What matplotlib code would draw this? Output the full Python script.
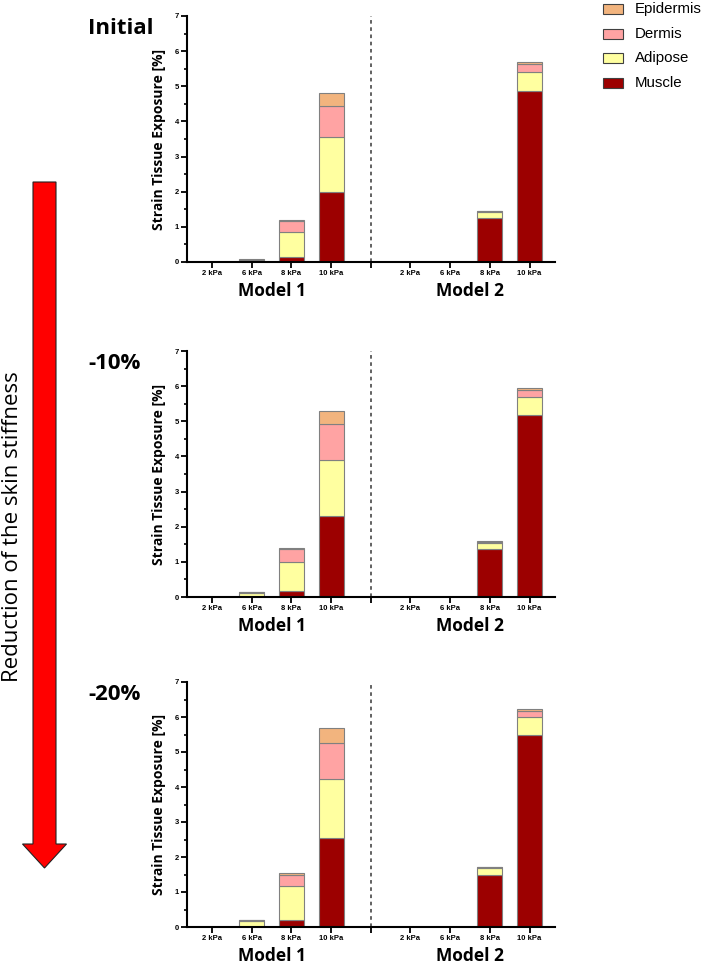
import matplotlib.pyplot as plt
from matplotlib.patches import FancyArrow, Rectangle
from matplotlib.ticker import MultipleLocator
import numpy as np

# x positions: Model 1 -> 0..3, divider at 4, Model 2 -> 5..8
pressures = ['2 kPa', '6 kPa', '8 kPa', '10 kPa']
models = ['Model 1', 'Model 2']
panels = ['Initial', '-10%', '-20%']
tissues = ['Muscle', 'Adipose', 'Dermis', 'Epidermis']
colors = {'Muscle': '#9c0000', 'Adipose': '#ffffa0', 'Dermis': '#ffa3a3', 'Epidermis': '#f2b47e'}

# layer values per panel, order: M1 2/6/8/10 kPa, M2 2/6/8/10 kPa
muscle = [
    [0, 0.00, 0.14, 2.00, 0, 0, 1.25, 4.88],
    [0, 0.01, 0.17, 2.30, 0, 0, 1.37, 5.17],
    [0, 0.01, 0.20, 2.54, 0, 0, 1.48, 5.48],
]
adipose = [
    [0, 0.03, 0.70, 1.55, 0, 0, 0.18, 0.54],
    [0, 0.09, 0.83, 1.61, 0, 0, 0.18, 0.52],
    [0, 0.16, 0.96, 1.70, 0, 0, 0.22, 0.52],
]
dermis = [
    [0, 0.02, 0.32, 0.89, 0, 0, 0.02, 0.20],
    [0, 0.03, 0.36, 1.00, 0, 0, 0.02, 0.21],
    [0, 0.02, 0.34, 1.02, 0, 0, 0.01, 0.17],
]
epidermis = [
    [0, 0.03, 0.04, 0.36, 0, 0, 0.01, 0.08],
    [0, 0.01, 0.04, 0.39, 0, 0, 0.01, 0.06],
    [0, 0.01, 0.04, 0.43, 0, 0, 0.01, 0.05],
]
layers = {'Muscle': muscle, 'Adipose': adipose, 'Dermis': dermis, 'Epidermis': epidermis}

W, H = 707, 964
fig = plt.figure(figsize=(W / 100, H / 100), dpi=100)

xpos = np.array([0, 1, 2, 3, 5, 6, 7, 8])
# (top of y=7, y=0) pixel rows of each panel
rows = [(16, 262), (351, 597), (682, 927)]
ax_left, ax_right = 187, 555

for p, (ytop, ybot) in enumerate(rows):
    ax = fig.add_axes([ax_left / W, 1 - ybot / H, (ax_right - ax_left) / W, (ybot - ytop) / H])
    bottom = np.zeros(len(xpos))
    for t in tissues:
        vals = np.array(layers[t][p])
        ax.bar(xpos, vals, bottom=bottom, width=0.63, color=colors[t],
               edgecolor='#808080', linewidth=0.8, zorder=2)
        bottom += vals
    ax.axvline(4, color='#555555', linestyle=(0, (2, 2)), linewidth=1.3, zorder=1)
    ax.set_xlim(-0.63, 8.64)
    ax.set_ylim(0, 7)
    for s in ['top', 'right']:
        ax.spines[s].set_visible(False)
    for s in ['left', 'bottom']:
        ax.spines[s].set_linewidth(1.5)
    ax.set_xticks(list(xpos) + [4])
    ax.set_xticklabels(pressures + pressures + [''], fontsize=5.5, fontweight='bold',
                       family='Liberation Sans')
    ax.yaxis.set_major_locator(MultipleLocator(1))
    ax.yaxis.set_minor_locator(MultipleLocator(0.5))
    ax.tick_params(axis='both', which='major', length=4, width=1.3, pad=2)
    ax.tick_params(axis='y', which='minor', length=2.5, width=1.2)
    for lab in ax.get_yticklabels():
        lab.set_fontsize(5.5)
        lab.set_fontweight('bold')
        lab.set_family('Liberation Sans')
    ax.set_ylabel('Strain Tissue Exposure [%]', fontsize=10, fontweight='bold',
                  family='Open Sans', labelpad=6)
    # model names under each group
    for m, xc in zip(models, [1.5, 6.5]):
        ax.text(xc, -0.082, m, transform=ax.get_xaxis_transform(), ha='center', va='top',
                fontsize=12.5, fontweight='bold', family='Open Sans')
    fig.text(88 / W, 1 - (ytop + 2) / H, panels[p], ha='left', va='top',
             fontsize=16, fontweight='bold', family='Open Sans')

# overlay in pixel coordinates for the arrow and the legend
over = fig.add_axes([0, 0, 1, 1], zorder=-1)
over.set_xlim(0, W)
over.set_ylim(H, 0)
over.axis('off')

# legend (top right)
for i, t in enumerate(tissues[::-1]):
    yc = 9 + i * 24.7
    over.add_patch(Rectangle((603, yc - 5), 20, 10, facecolor=colors[t],
                             edgecolor='#404040', linewidth=0.8))
    over.text(635, yc, t, ha='left', va='center', fontsize=10.8, family='Liberation Sans')

# big red arrow on the left
over.add_patch(FancyArrow(44.5, 182, 0, 686, width=23, head_width=44, head_length=24,
                          length_includes_head=True, facecolor='#ff0000', edgecolor='#222222',
                          linewidth=0.8))
fig.text(13 / W, 1 - 527 / H, 'Reduction of the skin stiffness', rotation=90, ha='center',
         va='center', fontsize=16, family='Open Sans')

fig.savefig('out.png', dpi=100)
